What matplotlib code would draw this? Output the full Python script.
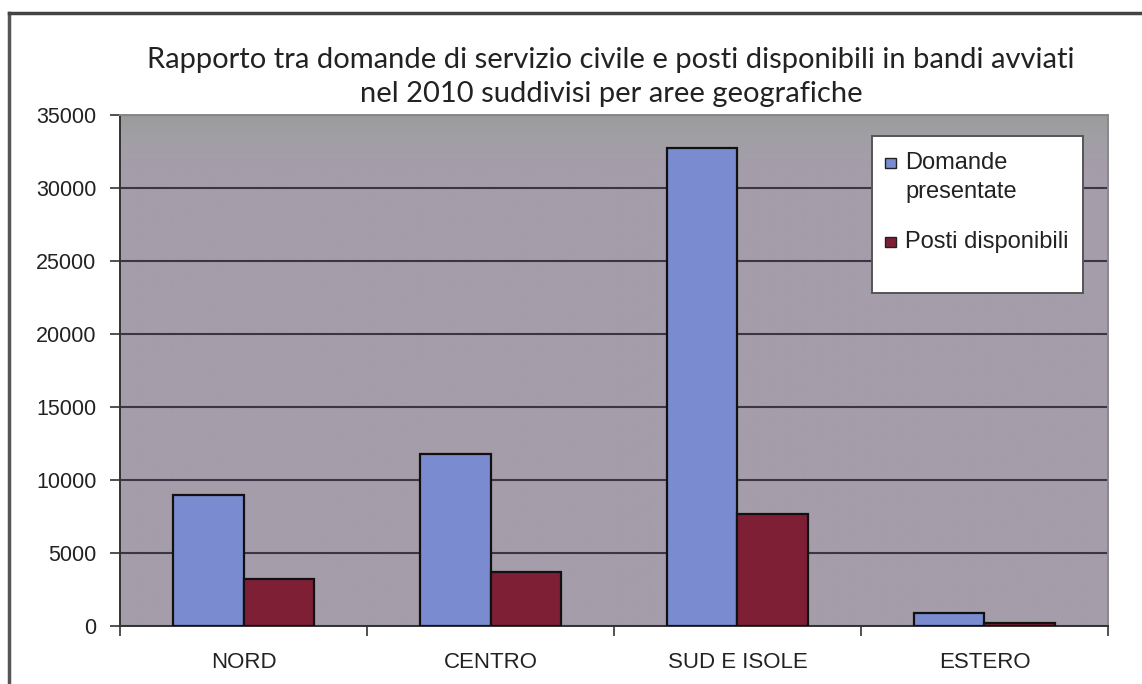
import matplotlib
matplotlib.use("Agg")
import matplotlib.pyplot as plt
import numpy as np
from matplotlib.lines import Line2D
from matplotlib.patches import Rectangle
from matplotlib.colors import LinearSegmentedColormap

categories = ["NORD", "CENTRO", "SUD E ISOLE", "ESTERO"]
domande = [8950, 11750, 32750, 900]
posti = [3200, 3700, 7650, 220]
series_labels = ["Domande\npresentate", "Posti disponibili"]
yticks = [0, 5000, 10000, 15000, 20000, 25000, 30000, 35000]
title = ("Rapporto tra domande di servizio civile e posti disponibili in bandi avviati\n"
         "nel 2010 suddivisi per aree geografiche")

blue = "#7a8bd0"
red = "#7e1f35"
bg = "#a59daa"
txt = "#222222"

fig = plt.figure(figsize=(11.42, 6.84), dpi=100)
fig.patch.set_facecolor("white")

# outer frame (left and top edges visible)
fig.add_artist(Line2D([0.008, 0.008], [0.0, 0.981], transform=fig.transFigure,
                      color="#555555", lw=2.5))
fig.add_artist(Line2D([0.008, 1.0], [0.981, 0.981], transform=fig.transFigure,
                      color="#444444", lw=2.5))

ax = fig.add_axes([0.1051, 0.0848, 0.8651, 0.7471])
ax.set_facecolor(bg)

# subtle grey band at the top of the plot area
grad = np.linspace(0, 1, 200).reshape(-1, 1)
cmap = LinearSegmentedColormap.from_list(
    "g", [(0, bg), (0.9, bg), (0.95, "#a1a0a5"), (1.0, "#9c9c9e")])
ax.imshow(grad, extent=[0, 1, 0, 1], transform=ax.transAxes, aspect="auto",
          cmap=cmap, origin="lower", zorder=0, interpolation="bilinear")

x = np.arange(len(categories))
w = 0.284
ax.bar(x - w / 2, domande, width=w, color=blue, edgecolor="#111111", linewidth=1.6,
       label=series_labels[0], zorder=3)
ax.bar(x + w / 2, posti, width=w, color=red, edgecolor="#111111", linewidth=1.6,
       label=series_labels[1], zorder=3)

ax.set_xlim(-0.5, len(categories) - 0.5)
ax.set_ylim(0, 35000)
ax.set_yticks(yticks)
ax.set_yticklabels([str(v) for v in yticks], fontsize=15.5, family="Liberation Sans",
                   color=txt)
ax.yaxis.grid(True, color="#3b3545", lw=1.5, zorder=1)
ax.set_axisbelow(True)

ax.set_xticks(x)
ax.set_xticklabels(categories, fontsize=16, family="Liberation Sans", color=txt)
ax.tick_params(axis="x", which="major", length=0, pad=19)
ax.set_xticks(np.arange(-0.5, len(categories)), minor=True)
ax.tick_params(axis="x", which="minor", length=7, width=1.2, color="#333333")
ax.tick_params(axis="y", length=7, width=1.2, color="#333333", pad=10)

for s in ["left", "bottom"]:
    ax.spines[s].set_color("#333333")
    ax.spines[s].set_linewidth(1.4)
for s in ["top", "right"]:
    ax.spines[s].set_color("#888888")
    ax.spines[s].set_linewidth(1.4)

# legend box drawn in axes coordinates
ax.add_patch(Rectangle((0.761, 0.652), 0.2137, 0.307, transform=ax.transAxes,
                       facecolor="white", edgecolor="#555555", lw=1.4, zorder=5))
ax.add_patch(Rectangle((0.7743, 0.8955), 0.0108, 0.021, transform=ax.transAxes,
                       facecolor=blue, edgecolor="#222222", lw=1.0, zorder=6))
ax.add_patch(Rectangle((0.7743, 0.7410), 0.0108, 0.021, transform=ax.transAxes,
                       facecolor=red, edgecolor="#222222", lw=1.0, zorder=6))
line_a, line_b = series_labels[0].split("\n")
lab_kw = dict(transform=ax.transAxes, ha="left", va="center", fontsize=17,
              family="Liberation Sans", color=txt, zorder=7)
ax.text(0.7945, 0.906, line_a, **lab_kw)
ax.text(0.7945, 0.849, line_b, **lab_kw)
ax.text(0.7945, 0.7515, series_labels[1], **lab_kw)

t1, t2 = title.split("\n")
title_kw = dict(ha="center", va="center", fontsize=21, family="Lato", color=txt)
fig.text(0.535, 0.913, t1, **title_kw)
fig.text(0.535, 0.862, t2, **title_kw)

fig.savefig("out.png", dpi=100)
